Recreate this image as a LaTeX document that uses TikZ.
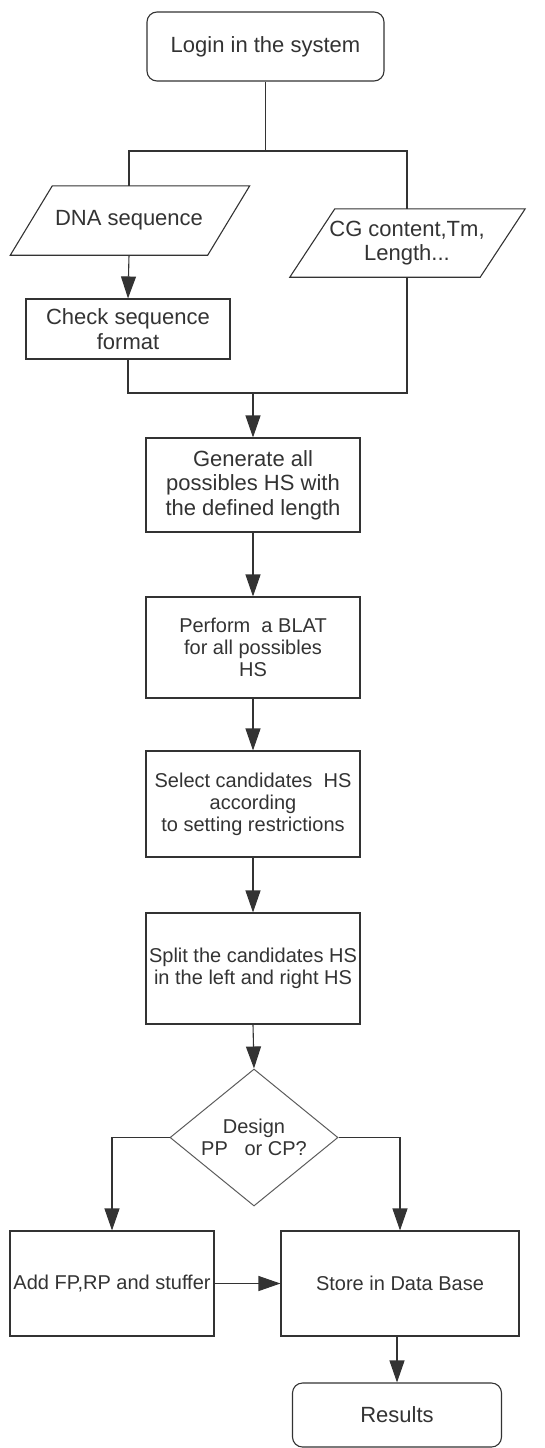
\documentclass[tikz,border=0pt]{standalone}
\usepackage{fontspec}
\setmainfont{Liberation Sans}
\usetikzlibrary{arrows.meta,shapes.geometric,calc}
\definecolor{ink}{HTML}{333333}
\begin{document}
\begin{tikzpicture}[x=1pt,y=-1pt,
  every node/.style={text=ink, inner sep=0pt, align=center},
  big/.style={font=\fontsize{22}{24.5}\selectfont},
  small/.style={font=\fontsize{20}{22}\selectfont},
  box/.style={draw=ink, line width=1.1pt, rectangle},
  term/.style={draw=ink, line width=1.1pt, rectangle, rounded corners=10pt},
  dec/.style={draw=ink!80, line width=1pt, diamond, aspect=1.23},
  para/.style={rectangle},
  paraline/.style={draw=ink, line width=1.1pt},
  conn/.style={draw=ink, line width=1.1pt},
  arr/.style={conn, -{Triangle[length=22pt,width=15pt]}}
]
\useasboundingbox (0,0) rectangle (544,1448);

% nodes
\node[term,big,minimum width=237pt,minimum height=69pt] (login) at (265.5,46.5) {Login in the system};
\node[para,big,minimum width=197pt,minimum height=69pt] (dna) at (129,220.5) {DNA sequence};
\node[para,big,minimum width=190pt,minimum height=68pt] (cg) at (407,243) {CG content,Tm,\\Length...};
\node[box,big,minimum width=204pt,minimum height=60pt] (check) at (128,329) {Check sequence\\format};
\node[box,big,minimum width=214pt,minimum height=94pt] (gen) at (253,485) {Generate all\\possibles HS with\\the defined length};
\node[box,small,minimum width=214pt,minimum height=101pt] (blat) at (253,647.5) {Perform~~a BLAT\\for all possibles\\HS};
\node[box,small,minimum width=214pt,minimum height=106pt] (sel) at (253,804) {Select candidates~~HS\\according\\to setting restrictions};
\node[box,small,minimum width=214pt,minimum height=111pt] (split) at (253,968.5) {Split the candidates HS\\in the left and right HS};
\node[dec,small,minimum width=168pt,minimum height=137pt] (design) at (254,1137.5) {Design\\PP~~~or CP?};
\node[box,small,minimum width=204pt,minimum height=105pt] (add) at (112,1283.5) {Add FP,RP and stuffer};
\node[box,small,minimum width=238pt,minimum height=105pt] (store) at (400,1283.5) {Store in Data Base};
\node[term,big,minimum width=209pt,minimum height=64pt] (res) at (397,1415) {Results};

% parallelogram outlines
\draw[paraline] ($(dna.north west)+(22,0)$) -- ($(dna.north east)+(22,0)$) -- ($(dna.south east)+(-20,0)$) -- ($(dna.south west)+(-20,0)$) -- cycle;
\draw[paraline] ($(cg.north west)+(23,0)$) -- ($(cg.north east)+(23,0)$) -- ($(cg.south east)+(-22,0)$) -- ($(cg.south west)+(-22,0)$) -- cycle;

% junction coordinates
\coordinate (j1) at (265.5,151);
\coordinate (j2) at (253,393);

% connectors
\draw[conn] (login.south) -- (j1);
\draw[conn] (dna.north) |- (j1);
\draw[conn] (cg.north) |- (j1);
\draw[arr] (dna.south) -- (check.north);
\draw[conn] (check.south) |- (j2);
\draw[conn] (cg.south) |- (j2);
\draw[arr] (j2) -- (gen.north);
\draw[arr] (gen.south) -- (blat.north);
\draw[arr] (blat.south) -- (sel.north);
\draw[arr] (sel.south) -- (split.north);
\draw[arr] (split.south) -- (design.north);
\draw[arr] (design.west) -| (add.north);
\draw[arr] (design.east) -| (store.north);
\draw[arr] (add.east) -- (store.west);
\draw[arr] (res.north |- store.south) -- (res.north);
\end{tikzpicture}
\end{document}
